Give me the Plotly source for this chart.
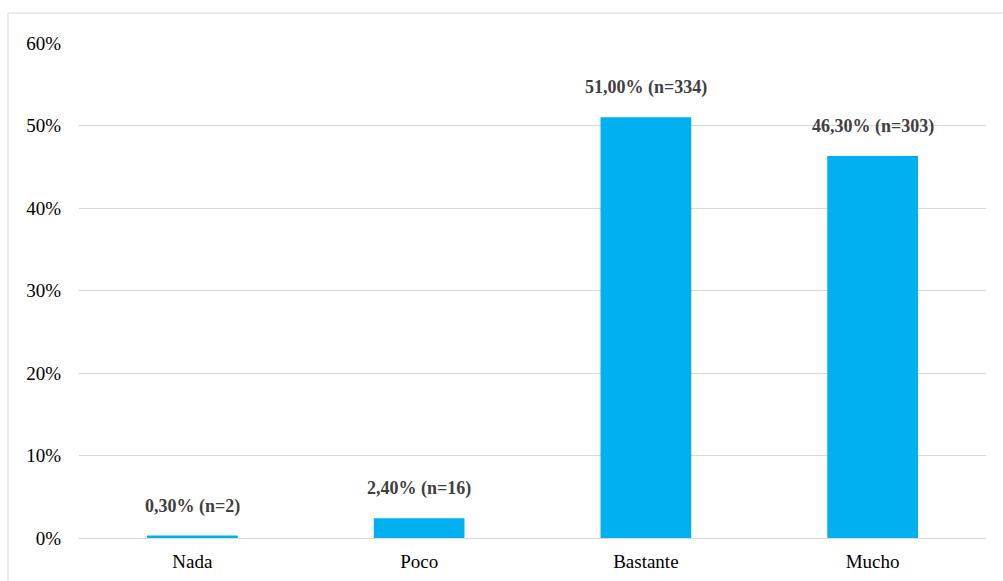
import plotly.graph_objects as go

categories = ["Nada", "Poco", "Bastante", "Mucho"]
percentages = [0.30, 2.40, 51.00, 46.30]
counts = [2, 16, 334, 303]
y_ticks = [0, 10, 20, 30, 40, 50, 60]

W, H = 1003, 581
L, R, T, B = 79, 17, 43, 43
pw, ph = W - L - R, H - T - B

labels = [f"{p:.2f}".replace(".", ",") + f"% (n={n})" for p, n in zip(percentages, counts)]

fig = go.Figure(go.Bar(
    x=categories,
    y=percentages,
    marker=dict(color="#00B0F0", line=dict(width=0)),
    hoverinfo="skip",
))

for cat, p, lab in zip(categories, percentages, labels):
    fig.add_annotation(
        x=cat, y=p, text=f"<b>{lab}</b>", showarrow=False,
        yanchor="bottom", yshift=17,
        font=dict(family="Liberation Serif", size=18, color="#404040"),
    )

# outer chart frame
def px_x(v):
    return (v - L) / pw

def px_y(v):
    return (H - B - v) / ph

fig.add_shape(
    type="rect", xref="paper", yref="paper",
    x0=px_x(8), x1=px_x(1010), y0=px_y(600), y1=px_y(13),
    line=dict(color="#D9D9D9", width=1), fillcolor="rgba(0,0,0,0)", layer="below",
)

fig.update_layout(
    width=W, height=H,
    margin=dict(l=L, r=R, t=T, b=B, autoexpand=False),
    plot_bgcolor="white", paper_bgcolor="white",
    bargap=0.6,
    showlegend=False,
    font=dict(family="Liberation Serif", size=19, color="#000000"),
)
fig.update_xaxes(
    showgrid=False, showline=True, linecolor="#D9D9D9", linewidth=1,
    ticks="", ticklabelstandoff=6, automargin=False,
    tickfont=dict(size=19, color="#000000"),
)
fig.update_yaxes(
    range=[0, 60], tickvals=y_ticks, ticktext=[f"{t}%" for t in y_ticks],
    showgrid=True, gridcolor="#D9D9D9", gridwidth=1,
    zeroline=False, showline=False, ticks="", ticklabelstandoff=17,
    automargin=False, tickfont=dict(size=19, color="#000000"),
)

fig.write_html("out.html")
